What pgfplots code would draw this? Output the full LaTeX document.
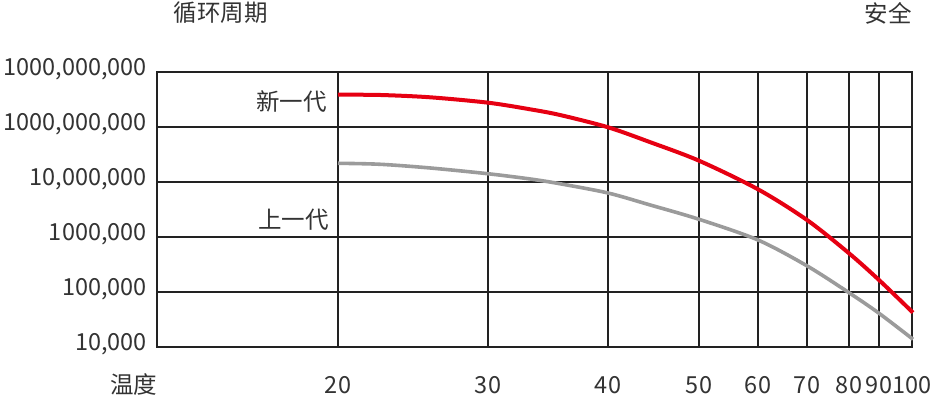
\documentclass[border=0pt]{standalone}
\usepackage{pgfplots}
\pgfplotsset{compat=1.18}
\usepackage{fontspec}
\setmainfont{Noto Sans CJK SC}
\definecolor{txt}{HTML}{333333}
\definecolor{gridc}{HTML}{222222}
\definecolor{redc}{HTML}{E60012}
\definecolor{grayc}{HTML}{9B9B9B}
\begin{document}
\fontsize{23.5bp}{27bp}\selectfont
\begin{tikzpicture}[x=1bp,y=1bp]
\begin{axis}[
  scale only axis,
  width=755bp, height=275bp,
  xmin=157, xmax=912, ymin=0, ymax=5,
  axis line style={gridc, line width=1.6bp},
  xtick={338,488,608,699,758,807,849,879,912},
  xticklabels={20,30,40,50,60,70,80,90,100},
  ytick={0,1,2,3,4,5},
  yticklabels={{10,000},{100,000},{1000,000},{10,000,000},{1000,000,000},{1000,000,000}},
  major tick length=0pt,
  grid=major,
  major grid style={gridc, line width=1.6bp},
  xticklabel style={anchor=center, yshift=-38bp, text=txt, inner sep=0pt},
  yticklabel style={anchor=east, xshift=-10bp, yshift=3bp, text=txt, inner sep=0pt},
  clip=false,
]
\addplot[redc, line width=4bp, smooth, tension=0.5] coordinates {
(338,4.587) (380,4.582) (430,4.540) (488,4.442) (530,4.322) (560,4.218) (608,3.995) (650,3.725) (699,3.387) (758,2.867) (807,2.309) (849,1.704) (879,1.218) (913,0.624)
};
\addplot[grayc, line width=3.6bp, smooth, tension=0.5] coordinates {
(338,3.340) (380,3.322) (430,3.255) (488,3.150) (530,3.055) (560,2.968) (608,2.800) (650,2.583) (699,2.322) (758,1.945) (807,1.475) (849,0.987) (879,0.613) (913,0.140)
};
\node[anchor=east, text=txt, inner sep=0pt] at (axis cs:327,4.47) {新一代};
\node[anchor=east, text=txt, inner sep=0pt] at (axis cs:329,2.31) {上一代};
\node[text=txt, inner sep=0pt] at (axis cs:221,6.07) {循环周期};
\node[text=txt, inner sep=0pt] at (axis cs:888,6.07) {安全};
\node[text=txt, inner sep=0pt] at (axis cs:134,-0.69) {温度};
\coordinate (bl) at (axis cs:0,-0.945);
\coordinate (tr) at (axis cs:936,6.309);
\end{axis}
\pgfresetboundingbox
\path[use as bounding box] (bl) rectangle (tr);
\end{tikzpicture}
\end{document}
